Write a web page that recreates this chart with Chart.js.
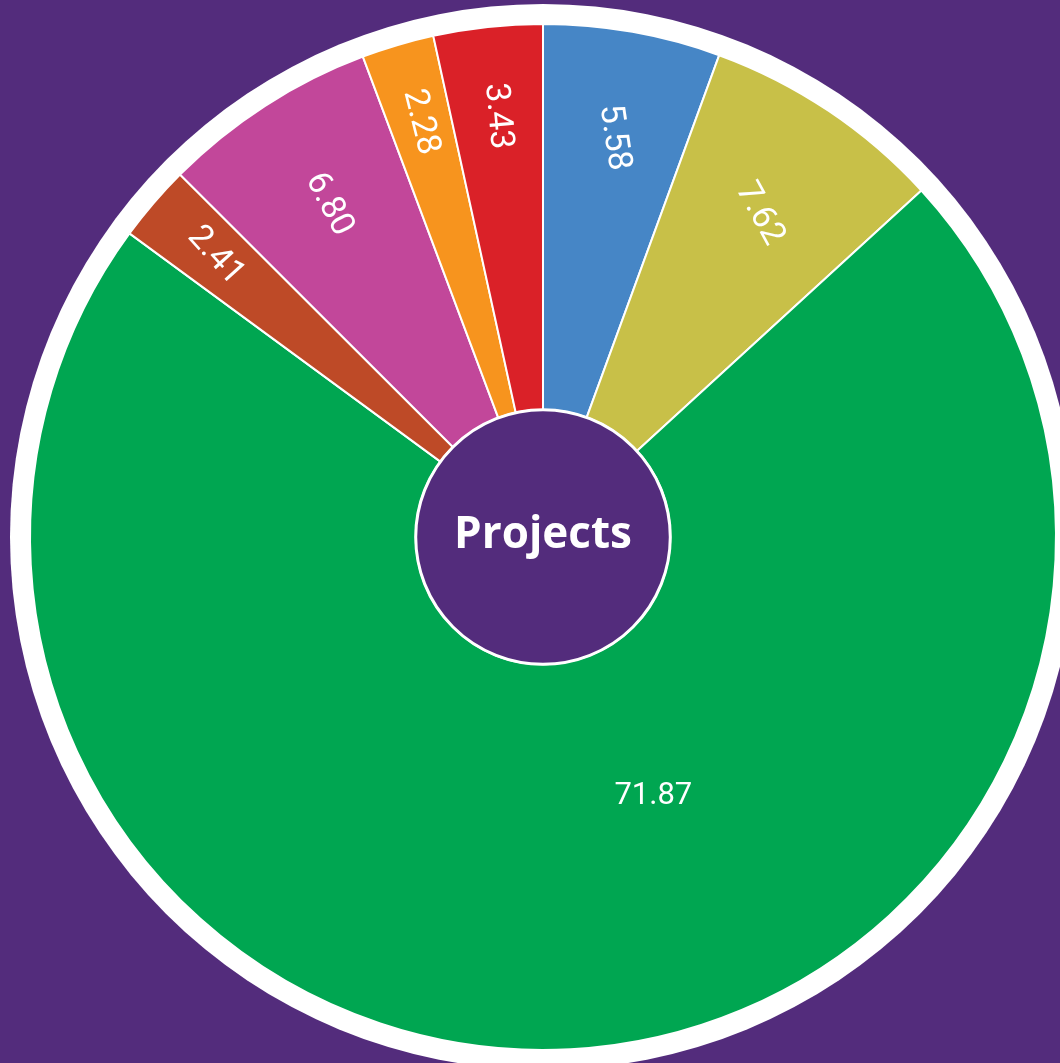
<!DOCTYPE html>
<html>
<head>
<meta charset="utf-8">
<script src="https://cdn.jsdelivr.net/npm/chart.js@4"></script>
<style>
    html, body { margin: 0; padding: 0; background: #532c7c; overflow: hidden; width: 1060px; height: 1063px; }
    #myChart { display: block; position: absolute; left: 0; top: 0; }
</style>
</head>
<body>
<canvas id="myChart" width="1086" height="1074"></canvas>
<script>
const slice_labels = ["A", "B", "C", "D", "E", "F", "G"];
const slice_values = [5.58, 7.62, 71.87, 2.41, 6.80, 2.28, 3.43];
const slice_colors = ["#4686c6", "#c8c048", "#00a651", "#be4a27", "#c2479a", "#f7941e", "#da2128"];
const center_text = "Projects";

const LABEL_FONT = "34px Roboto";
const BIG_LABEL_FONT = "31px Roboto";
const CENTER_FONT = "bold 44px 'Open Sans'";

const ringPlugin = {
    id: "ring",
    beforeDatasetsDraw(chart) {
        const arc = chart.getDatasetMeta(0).data[0];
        const ctx = chart.ctx;
        ctx.save();
        ctx.beginPath();
        ctx.arc(arc.x, arc.y, arc.outerRadius + 20, 0, Math.PI * 2);
        ctx.fillStyle = "#ffffff";
        ctx.fill();
        ctx.restore();
    },
    afterDatasetsDraw(chart) {
        const meta = chart.getDatasetMeta(0);
        const ctx = chart.ctx;
        const first = meta.data[0];

        // center disc
        ctx.save();
        ctx.beginPath();
        ctx.arc(first.x, first.y, first.innerRadius, 0, Math.PI * 2);
        ctx.fillStyle = "#532c7c";
        ctx.fill();
        ctx.lineWidth = 3;
        ctx.strokeStyle = "#ffffff";
        ctx.stroke();

        ctx.fillStyle = "#ffffff";
        ctx.textAlign = "center";
        ctx.textBaseline = "middle";
        ctx.font = CENTER_FONT;
        ctx.fillText(center_text, first.x, first.y - 2);

        // value labels
        meta.data.forEach((arc, i) => {
            const value = slice_values[i];
            if (value > 50) {
                ctx.font = BIG_LABEL_FONT;
                const a = arc.startAngle + (arc.endAngle - arc.startAngle) * 0.423;
                const r = arc.outerRadius * 0.55;
                ctx.fillText(value.toFixed(2), arc.x + r * Math.cos(a), arc.y + r * Math.sin(a));
            } else {
                ctx.font = LABEL_FONT;
                const a = (arc.startAngle + arc.endAngle) / 2;
                const r = arc.outerRadius * (0.88 - value * 0.016);
                let fromTop = a + Math.PI / 2;
                if (fromTop > Math.PI) fromTop -= Math.PI * 2;
                ctx.save();
                ctx.translate(arc.x + r * Math.cos(a), arc.y + r * Math.sin(a));
                ctx.rotate(Math.PI / 2 - Math.abs(fromTop) * 0.85);
                ctx.fillText(value.toFixed(2), 0, 0);
                ctx.restore();
            }
        });
        ctx.restore();
    }
};

const drawChart = () => {
    new Chart(document.getElementById("myChart"), {
        type: "doughnut",
        data: {
            labels: slice_labels,
            datasets: [{
                data: slice_values,
                backgroundColor: slice_colors,
                borderColor: "#ffffff",
                borderWidth: 2
            }]
        },
        options: {
            responsive: false,
            animation: false,
            radius: 513,
            cutout: 133,
            layout: { padding: 0 },
            plugins: {
                legend: { display: false },
                tooltip: { enabled: false }
            }
        },
        plugins: [ringPlugin]
    });
}

Promise.all([document.fonts.load(LABEL_FONT), document.fonts.load(CENTER_FONT)])
    .then(drawChart, drawChart);
</script>
</body>
</html>
